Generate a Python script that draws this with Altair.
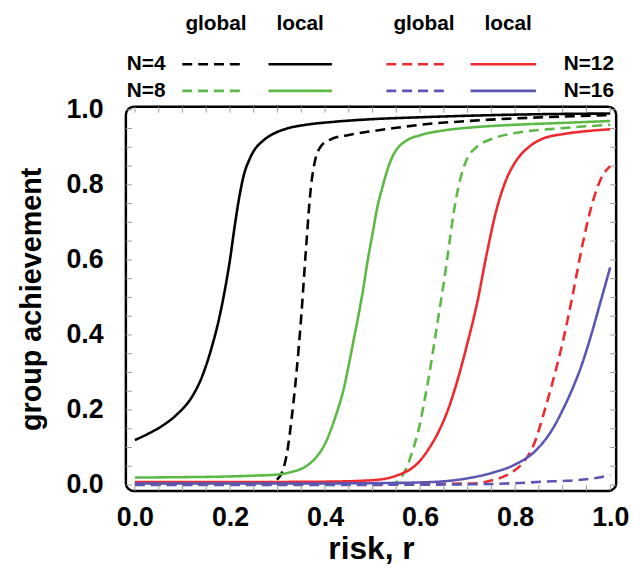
import altair as alt
import pandas as pd

FONT = "Liberation Sans"

# ---------------- data ----------------
# N=4, local (solid black)
n4_local_x = [0, 0.03, 0.06, 0.09, 0.12, 0.14, 0.16, 0.18, 0.19, 0.20, 0.21, 0.22, 0.23, 0.24, 0.25, 0.27, 0.29, 0.32, 0.36, 0.42, 0.5, 0.6, 0.7, 0.8, 0.9, 1.0]
n4_local_y = [0.12, 0.138, 0.16, 0.19, 0.235, 0.285, 0.36, 0.46, 0.525, 0.6, 0.69, 0.77, 0.83, 0.865, 0.89, 0.918, 0.935, 0.95, 0.96, 0.968, 0.975, 0.98, 0.984, 0.987, 0.989, 0.99]
# N=4, global (dashed black)
n4_global_x = [0, 0.1, 0.2, 0.27, 0.29, 0.30, 0.31, 0.32, 0.33, 0.34, 0.35, 0.36, 0.37, 0.38, 0.39, 0.41, 0.45, 0.5, 0.55, 0.6, 0.7, 0.8, 0.9, 1.0]
n4_global_y = [0.004, 0.004, 0.005, 0.006, 0.009, 0.016, 0.035, 0.085, 0.18, 0.3, 0.45, 0.63, 0.79, 0.87, 0.9, 0.92, 0.933, 0.943, 0.952, 0.96, 0.97, 0.977, 0.982, 0.986]
# N=8, local (solid green)
n8_local_x = [0, 0.1, 0.2, 0.25, 0.3, 0.33, 0.36, 0.38, 0.40, 0.42, 0.44, 0.45, 0.46, 0.47, 0.48, 0.49, 0.50, 0.51, 0.52, 0.53, 0.54, 0.55, 0.57, 0.6, 0.65, 0.7, 0.8, 0.9, 1.0]
n8_local_y = [0.02, 0.021, 0.023, 0.025, 0.028, 0.035, 0.05, 0.072, 0.11, 0.175, 0.26, 0.32, 0.385, 0.45, 0.52, 0.6, 0.67, 0.74, 0.79, 0.835, 0.87, 0.893, 0.917, 0.932, 0.945, 0.952, 0.96, 0.965, 0.97]
# N=8, global (dashed green)
n8_global_x = [0, 0.2, 0.4, 0.5, 0.54, 0.55, 0.56, 0.57, 0.58, 0.59, 0.60, 0.61, 0.62, 0.63, 0.64, 0.65, 0.66, 0.67, 0.68, 0.69, 0.70, 0.72, 0.75, 0.8, 0.9, 1.0]
n8_global_y = [0.003, 0.003, 0.004, 0.004, 0.005, 0.008, 0.02, 0.042, 0.075, 0.115, 0.165, 0.23, 0.3, 0.38, 0.46, 0.54, 0.63, 0.72, 0.79, 0.84, 0.872, 0.902, 0.922, 0.938, 0.951, 0.96]
# N=12, local (solid red)
n12_local_x = [0, 0.2, 0.4, 0.5, 0.55, 0.6, 0.62, 0.64, 0.66, 0.68, 0.70, 0.72, 0.74, 0.76, 0.78, 0.80, 0.83, 0.86, 0.9, 0.95, 1.0]
n12_local_y = [0.008, 0.008, 0.009, 0.013, 0.025, 0.065, 0.1, 0.145, 0.205, 0.285, 0.38, 0.485, 0.615, 0.73, 0.81, 0.86, 0.902, 0.924, 0.935, 0.943, 0.948]
# N=12, global (dashed red)
n12_global_x = [0, 0.3, 0.6, 0.7, 0.72, 0.75, 0.78, 0.80, 0.82, 0.84, 0.86, 0.88, 0.90, 0.92, 0.94, 0.96, 0.98, 1.0]
n12_global_y = [0.003, 0.003, 0.003, 0.004, 0.005, 0.012, 0.025, 0.04, 0.065, 0.11, 0.19, 0.28, 0.38, 0.5, 0.63, 0.74, 0.815, 0.85]
# N=16, local (solid blue)
n16_local_x = [0, 0.3, 0.5, 0.6, 0.65, 0.7, 0.75, 0.8, 0.84, 0.88, 0.90, 0.92, 0.94, 0.96, 0.98, 1.0]
n16_local_y = [0.004, 0.004, 0.005, 0.007, 0.01, 0.018, 0.032, 0.055, 0.088, 0.152, 0.2, 0.255, 0.32, 0.4, 0.49, 0.58]
# N=16, global (dashed blue)
n16_global_x = [0, 0.3, 0.6, 0.7, 0.75, 0.8, 0.86, 0.9, 0.93, 0.96, 0.98, 1.0]
n16_global_y = [0.0, 0.0, 0.001, 0.002, 0.003, 0.005, 0.009, 0.011, 0.013, 0.017, 0.021, 0.026]

x_ticks = [0.0, 0.2, 0.4, 0.6, 0.8, 1.0]
y_ticks = [0.0, 0.2, 0.4, 0.6, 0.8, 1.0]
minor_ticks = [round(i * 0.05, 2) for i in range(21)]

groups = ["N=4", "N=8", "N=12", "N=16"]
colors = ["#000000", "#5cb946", "#ee2a2f", "#5b56b3"]

series = [
    ("N=4", "local", n4_local_x, n4_local_y),
    ("N=4", "global", n4_global_x, n4_global_y),
    ("N=8", "local", n8_local_x, n8_local_y),
    ("N=8", "global", n8_global_x, n8_global_y),
    ("N=12", "local", n12_local_x, n12_local_y),
    ("N=12", "global", n12_global_x, n12_global_y),
    ("N=16", "local", n16_local_x, n16_local_y),
    ("N=16", "global", n16_global_x, n16_global_y),
]
rows = []
for g, t, xs, ys in series:
    for xv, yv in zip(xs, ys):
        rows.append({"x": xv, "y": yv, "N": g, "type": t, "key": g + " " + t})
df = pd.DataFrame(rows)

W, H = 495, 388
xscale = alt.Scale(domain=[-0.019, 1.0125], nice=False, zero=False)
yscale = alt.Scale(domain=[-0.016, 1.008], nice=False, zero=False)
DASH = [10, 6]

xaxis = alt.Axis(
    values=x_ticks, format=".1f", title="risk, r", ticks=False, tickSize=0,
    domain=False, grid=False, labelPadding=14, titlePadding=3,
    labelFontSize=27, titleFontSize=32, labelFlush=False)
yaxis = alt.Axis(
    values=y_ticks, format=".1f", title="group achievement", ticks=False, tickSize=0,
    domain=False, grid=False, labelPadding=23, titlePadding=20,
    labelFontSize=27, titleFontSize=29, labelFlush=False)

curves = alt.Chart(df).mark_line(strokeWidth=2.6, interpolate="monotone").encode(
    x=alt.X("x:Q", scale=xscale, axis=xaxis),
    y=alt.Y("y:Q", scale=yscale, axis=yaxis),
    color=alt.Color("N:N", scale=alt.Scale(domain=groups, range=colors), legend=None),
    strokeDash=alt.StrokeDash("type:N", scale=alt.Scale(domain=["global", "local"], range=[DASH, [1, 0]]), legend=None),
    detail="key:N",
)

tickdf = pd.DataFrame({"v": minor_ticks})
TC = "#9a9a9a"
tick_bottom = alt.Chart(tickdf).mark_rule(color=TC, strokeWidth=1).encode(
    x=alt.X("v:Q", scale=xscale, axis=xaxis), y=alt.value(H), y2=alt.value(H - 6))
tick_top = alt.Chart(tickdf).mark_rule(color=TC, strokeWidth=1).encode(
    x=alt.X("v:Q", scale=xscale, axis=xaxis), y=alt.value(0), y2=alt.value(6))
tick_left = alt.Chart(tickdf).mark_rule(color=TC, strokeWidth=1).encode(
    y=alt.Y("v:Q", scale=yscale, axis=yaxis), x=alt.value(0), x2=alt.value(6))
tick_right = alt.Chart(tickdf).mark_rule(color=TC, strokeWidth=1).encode(
    y=alt.Y("v:Q", scale=yscale, axis=yaxis), x=alt.value(W), x2=alt.value(W - 6))

one = pd.DataFrame({"a": [0]})


def ltext(txt, xpx, ypx, align):
    return alt.Chart(one).mark_text(
        text=txt, align=align, baseline="middle", font=FONT, fontSize=21,
        fontWeight="bold", color="black").encode(x=alt.value(xpx), y=alt.value(ypx))


def lline(color, dashed, x1, x2, ypx):
    kw = dict(color=color, strokeWidth=2.6)
    if dashed:
        kw["strokeDash"] = DASH
    return alt.Chart(one).mark_rule(**kw).encode(
        x=alt.value(x1), x2=alt.value(x2), y=alt.value(ypx))


HDR, R1, R2 = -84, -43, -16
legend_layers = [
    ltext("global", 91, HDR, "center"),
    ltext("local", 176, HDR, "center"),
    ltext("global", 301, HDR, "center"),
    ltext("local", 386, HDR, "center"),
    ltext("N=4", 40, R1, "right"),
    ltext("N=8", 40, R2, "right"),
    ltext("N=12", 442, R1, "left"),
    ltext("N=16", 442, R2, "left"),
    lline(colors[0], True, 57, 118, R1),
    lline(colors[0], False, 144, 208, R1),
    lline(colors[1], True, 57, 118, R2),
    lline(colors[1], False, 144, 208, R2),
    lline(colors[2], True, 263, 324, R1),
    lline(colors[2], False, 348, 414, R1),
    lline(colors[3], True, 263, 324, R2),
    lline(colors[3], False, 348, 414, R2),
]

chart = alt.layer(
    curves, tick_bottom, tick_top, tick_left, tick_right, *legend_layers
).properties(
    width=W, height=H,
    autosize=alt.AutoSizeParams(type="none"),
    padding={"left": 119, "top": 97, "right": 16, "bottom": 78},
).configure(
    font=FONT,
).configure_view(
    stroke="black", strokeWidth=2.5, cornerRadius=8,
).configure_axis(
    labelFont=FONT, titleFont=FONT, labelFontWeight="bold", titleFontWeight="bold",
    labelColor="black", titleColor="black",
)

chart.save("out.html", embed_options={"renderer": "svg", "actions": False})
